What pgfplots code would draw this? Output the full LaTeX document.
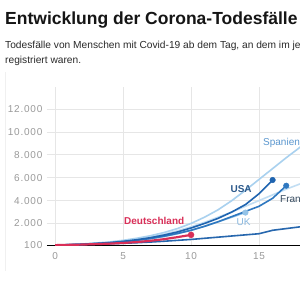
\documentclass[border=0pt]{standalone}
\usepackage{pgfplots}
\pgfplotsset{compat=1.18}
\usepackage{fontspec}
\setmainfont{Liberation Sans}
\newfontfamily\tickfont[LetterSpace=8]{Liberation Sans}
\definecolor{titlecol}{HTML}{151515}
\definecolor{subcol}{HTML}{2A2A2A}
\definecolor{tickgray}{HTML}{9A9A9A}
\definecolor{gridgray}{HTML}{E6E6E6}
\definecolor{spainline}{HTML}{A9D1EF}
\definecolor{spainlab}{HTML}{5B97CF}
\definecolor{otherline}{HTML}{C2DEF3}
\definecolor{ukline}{HTML}{93C3E8}
\definecolor{uklab}{HTML}{8AB8DF}
\definecolor{usaline}{HTML}{1F64B0}
\definecolor{usalab}{HTML}{2D5A8C}
\definecolor{frline}{HTML}{2F78C0}
\definecolor{frlab}{HTML}{34495E}
\definecolor{lowline}{HTML}{2767AE}
\definecolor{deline}{HTML}{D92F58}
\begin{document}
\begin{tikzpicture}[x=1pt,y=1pt]
\useasboundingbox (0,0) rectangle (300,300);
\clip (0,0) rectangle (300,300);
\fill[white] (0,0) rectangle (300,300);
\draw[gray!12, line width=0.8pt] (5,29) -- (5,228);
\node[anchor=base west, inner sep=0, text=titlecol, font=\bfseries\fontsize{17.5}{20}\selectfont] at (5,275) {Entwicklung der Corona-Todesfälle};
\node[anchor=base west, inner sep=0, text=subcol, font=\fontsize{10.2}{12}\selectfont] at (5,251.7) {Todesfälle von Menschen mit Covid-19 ab dem Tag, an dem im jeweiligen Land mindestens 100 Todesfälle};
\node[anchor=base west, inner sep=0, text=subcol, font=\fontsize{10.2}{12}\selectfont] at (5,236.7) {registriert waren.};
\begin{axis}[
  at={(34.5,48)}, anchor=south west, scale only axis,
  width=257pt, height=158pt,
  xmin=-0.6, xmax=18.3, ymin=100, ymax=13925,
  scaled y ticks=false, scaled x ticks=false,
  axis x line*=bottom, axis y line*=left,
  y axis line style={draw=none},
  x axis line style={draw=black, line width=1pt, -},
  xtick={0,5,10,15}, xticklabels={0,5,10,15},
  ytick={100,2000,4000,6000,8000,10000,12000},
  yticklabels={100,2.000,4.000,6.000,8.000,10.000,12.000},
  major tick length=0pt,
  grid=major, major grid style={draw=gridgray, line width=0.8pt},
  ticklabel style={font=\tickfont\fontsize{10}{12}\selectfont, text=tickgray},
  yticklabel style={anchor=east, xshift=-1pt},
  xticklabel style={yshift=-4pt},
  clip=true,
]
% other light country (label off-canvas)
\addplot[otherline, line width=1.6pt] coordinates {(0,100)(2,180)(4,330)(5,450)(6,600)(7,800)(8,1050)(9,1350)(10,1700)(11,2100)(12,2550)(13,3000)(14,3500)(15,4000)(16,4500)(17,5000)(18,5450)(18.3,5600)};
% Spanien
\addplot[spainline, line width=1.6pt] coordinates {(0,100)(1,140)(2,200)(3,280)(4,380)(5,520)(6,700)(7,920)(8,1200)(9,1550)(10,2000)(11,2550)(12,3200)(13,4000)(14,4900)(15,5850)(16,6800)(17,7750)(18,8650)(18.3,8950)};
% UK
\addplot[ukline, line width=1.6pt] coordinates {(0,100)(2,170)(4,290)(5,380)(6,500)(7,650)(8,850)(9,1100)(10,1400)(11,1750)(12,2150)(13,2550)(14,2950)};
\addplot[only marks, mark=*, mark size=2.8pt, color=ukline] coordinates {(14,2950)};
% lower dark line
\addplot[lowline, line width=1.6pt] coordinates {(0,100)(2,150)(4,220)(5,260)(6,310)(7,370)(8,440)(9,520)(10,600)(11,700)(12,800)(13,900)(14,1000)(15,1100)(16,1400)(17,1550)(18,1700)(18.3,1750)};
% Frankreich
\addplot[frline, line width=1.6pt] coordinates {(0,100)(2,170)(4,300)(5,400)(6,520)(7,680)(8,880)(9,1120)(10,1400)(11,1750)(12,2150)(13,2600)(14,3050)(15,3500)(16,4200)(17,5300)};
\addplot[only marks, mark=*, mark size=2.8pt, color=frline] coordinates {(17,5300)};
% USA
\addplot[usaline, line width=1.6pt] coordinates {(0,100)(2,180)(4,320)(5,430)(6,570)(7,750)(8,980)(9,1250)(10,1600)(11,2000)(12,2450)(13,3000)(14,3650)(15,4600)(16,5800)};
\addplot[only marks, mark=*, mark size=2.8pt, color=usaline] coordinates {(16,5800)};
% Deutschland
\addplot[deline, line width=2.2pt] coordinates {(0,100)(2,150)(4,230)(5,290)(6,370)(7,480)(8,620)(9,800)(10,1000)};
\addplot[only marks, mark=*, mark size=3pt, color=deline] coordinates {(10,1000)};
% labels
\node[anchor=west, inner sep=0, text=deline, font=\bfseries\fontsize{10}{12}\selectfont] at (axis cs:5.07,2244) {Deutschland};
\node[anchor=center, inner sep=0, text=usalab, font=\bfseries\fontsize{10}{12}\selectfont] at (axis cs:13.68,5044) {USA};
\node[anchor=center, inner sep=0, text=uklab, font=\fontsize{10}{12}\selectfont] at (axis cs:13.86,2112) {UK};
\node[anchor=west, inner sep=0, text=frlab, font=\fontsize{10}{12}\selectfont] at (axis cs:16.54,4169) {Frankreich};
\node[anchor=west, inner sep=0, text=spainlab, font=\fontsize{10}{12}\selectfont] at (axis cs:15.29,9069) {Spanien};
\end{axis}
\end{tikzpicture}
\end{document}
